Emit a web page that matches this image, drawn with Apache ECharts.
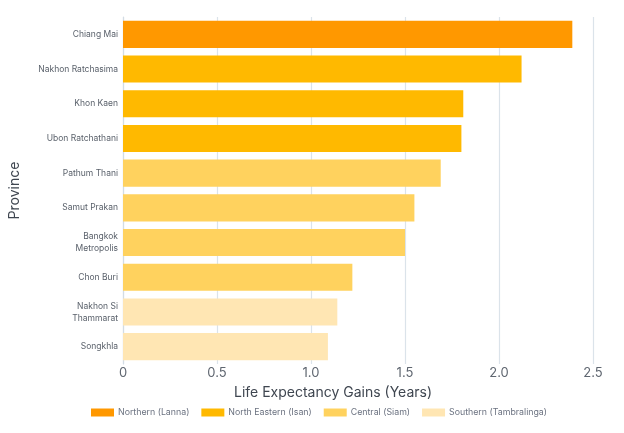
<!DOCTYPE html>
<html>
<head>
<meta charset="utf-8">
<script src="https://cdn.jsdelivr.net/npm/echarts@6/dist/echarts.min.js"></script>
<style>
  html, body { margin: 0; padding: 0; background: #fff; }
  #chart { width: 624px; height: 433px; }
</style>
</head>
<body>
<div id="chart"></div>
<script>
// Provinces, top to bottom, with their region and life expectancy gain (years)
const provinces = [
  'Chiang Mai', 'Nakhon Ratchasima', 'Khon Kaen', 'Ubon Ratchathani',
  'Pathum Thani', 'Samut Prakan', 'Bangkok\nMetropolis', 'Chon Buri',
  'Nakhon Si\nThammarat', 'Songkhla'
];
const gains = [2.39, 2.12, 1.81, 1.80, 1.69, 1.55, 1.50, 1.22, 1.14, 1.09];
const provinceRegion = [
  'Northern (Lanna)', 'North Eastern (Isan)', 'North Eastern (Isan)', 'North Eastern (Isan)',
  'Central (Siam)', 'Central (Siam)', 'Central (Siam)', 'Central (Siam)',
  'Southern (Tambralinga)', 'Southern (Tambralinga)'
];
const regions = ['Northern (Lanna)', 'North Eastern (Isan)', 'Central (Siam)', 'Southern (Tambralinga)'];
const regionColors = ['#FF9800', '#FFB900', '#FFD25E', '#FFE6B3'];
const xTicks = [0, 0.5, 1.0, 1.5, 2.0, 2.5];

const font = 'Inter, "Noto Sans", sans-serif';

const series = regions.map((r, ri) => ({
  name: r,
  type: 'bar',
  stack: 'all',
  barCategoryGap: '22%',
  itemStyle: { color: regionColors[ri] },
  data: gains.map((g, i) => provinceRegion[i] === r ? g : null)
}));

const chart = echarts.init(document.getElementById('chart'), null, { renderer: 'canvas' });
chart.setOption({
  animation: false,
  textStyle: { fontFamily: font },
  grid: { left: 123, right: 31, top: 17, bottom: 69, containLabel: false, outerBoundsMode: 'none' },
  legend: {
    bottom: 11,
    left: 86,
    itemWidth: 23,
    itemHeight: 8,
    itemGap: 12,
    icon: 'rect',
    textStyle: { fontFamily: font, fontSize: 8.8, color: '#6b7280', padding: [0, 0, 0, -1] },
    data: regions
  },
  xAxis: {
    type: 'value',
    min: 0,
    max: 2.5,
    interval: 0.5,
    name: 'Life Expectancy Gains (Years)',
    nameLocation: 'middle',
    nameGap: 22,
    nameTextStyle: { fontFamily: font, fontSize: 14, color: '#3f4650', padding: [0, 50, 0, 0] },
    axisLine: { show: false },
    axisTick: { show: false },
    axisLabel: {
      fontFamily: font, fontSize: 13, color: '#5f6670', margin: 3,
      formatter: v => {
        const t = xTicks.find(x => Math.abs(x - v) < 1e-9);
        return t === 0 ? '0' : t.toFixed(1);
      }
    },
    splitLine: { show: true, lineStyle: { color: '#dbe3ea', width: 1.2 } }
  },
  yAxis: {
    type: 'category',
    inverse: true,
    data: provinces,
    name: 'Province',
    nameLocation: 'middle',
    nameGap: 101,
    nameRotate: 90,
    nameTextStyle: { fontFamily: font, fontSize: 14, color: '#3f4650' },
    axisLine: { show: true, lineStyle: { color: '#d3dce4', width: 1.2 } },
    axisTick: { show: false },
    axisLabel: { fontFamily: font, fontSize: 8.5, color: '#5a616b', margin: 5, lineHeight: 12 }
  },
  series: series
});
</script>
</body>
</html>
